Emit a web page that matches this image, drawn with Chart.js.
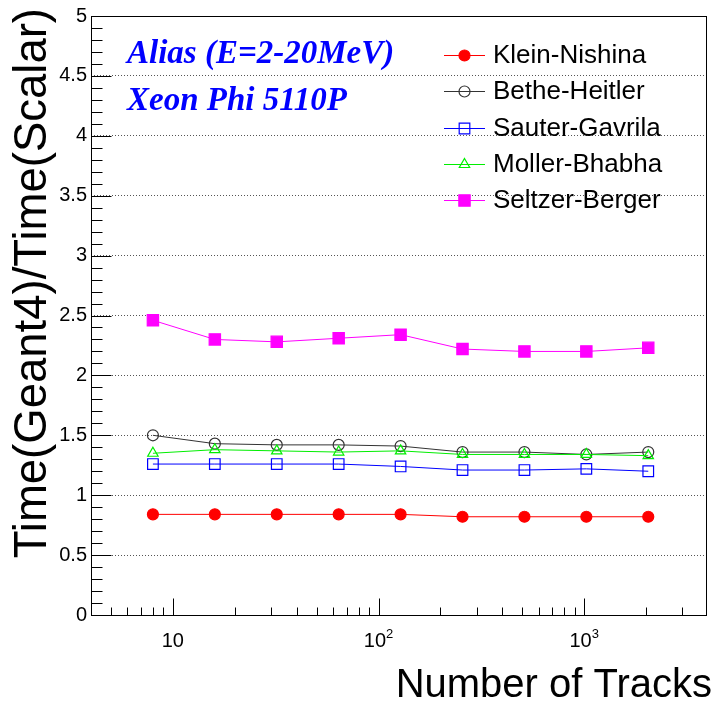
<!DOCTYPE html>
<html>
<head>
<meta charset="utf-8">
<script src="https://cdn.jsdelivr.net/npm/chart.js@4.4.1/dist/chart.umd.min.js"></script>
<style>
  html, body { margin: 0; padding: 0; background: #fff; }
  #ratioChart { display: block; }
</style>
</head>
<body>
<canvas id="ratioChart" width="715" height="704"></canvas>
<script>
// number of tracks per basket
var trackCounts = [8, 16, 32, 64, 128, 256, 512, 1024, 2048];

// Time(Geant4)/Time(Scalar) for each model
var kleinNishina = [0.84, 0.84, 0.84, 0.84, 0.84, 0.82, 0.82, 0.82, 0.82];
var betheHeitler = [1.50, 1.43, 1.42, 1.42, 1.41, 1.36, 1.36, 1.34, 1.36];
var sauterGavrila = [1.26, 1.26, 1.26, 1.26, 1.24, 1.21, 1.21, 1.22, 1.20];
var mollerBhabha = [1.35, 1.38, 1.37, 1.36, 1.37, 1.34, 1.34, 1.34, 1.33];
var seltzerBerger = [2.46, 2.30, 2.28, 2.31, 2.34, 2.22, 2.20, 2.20, 2.23];

var modelNames = ["Klein-Nishina", "Bethe-Heitler", "Sauter-Gavrila", "Moller-Bhabha", "Seltzer-Berger"];
var xTickValues = [10, 100, 1000];
var xTickExponents = ["", "2", "3"];

var SANS = '"Liberation Sans", Arial, sans-serif';
var SERIF = '"Liberation Serif", "Times New Roman", serif';

function toPoints(values) {
  var pts = [];
  for (var i = 0; i < trackCounts.length; i++) {
    pts.push({ x: trackCounts[i], y: values[i] });
  }
  return pts;
}

function makeDataset(label, values, color, style, radius, fill, order) {
  return {
    label: label,
    data: toPoints(values),
    borderColor: color,
    borderWidth: 1,
    pointStyle: style,
    pointRadius: radius,
    pointHoverRadius: radius,
    pointBorderColor: color,
    pointBackgroundColor: fill ? color : "rgba(0,0,0,0)",
    pointBorderWidth: 1.2,
    tension: 0,
    fill: false,
    order: order
  };
}

var datasets = [
  makeDataset(modelNames[0], kleinNishina, "#ff0000", "circle", 5.5, true, 4),
  makeDataset(modelNames[1], betheHeitler, "#333333", "circle", 5.5, false, 3),
  makeDataset(modelNames[2], sauterGavrila, "#0000ff", "rect", 7.5, false, 2),
  makeDataset(modelNames[3], mollerBhabha, "#00ee00", "triangle", 6, false, 1),
  makeDataset(modelNames[4], seltzerBerger, "#ff00ff", "rect", 8, true, 0)
];

function drawMarker(ctx, ds, x, y) {
  ctx.save();
  ctx.fillStyle = ds.pointBackgroundColor;
  ctx.strokeStyle = ds.pointBorderColor;
  ctx.lineWidth = ds.pointBorderWidth;
  Chart.helpers.drawPoint(ctx, {
    pointStyle: ds.pointStyle,
    radius: ds.pointRadius,
    rotation: 0,
    borderWidth: ds.pointBorderWidth
  }, x, y);
  ctx.restore();
}

// frame, inward ticks, log labels, titles, text boxes and legend
var rootStyle = {
  id: "rootStyle",
  afterDraw: function (chart) {
    var ctx = chart.ctx;
    var area = chart.chartArea;
    var xs = chart.scales.x;
    var ys = chart.scales.y;
    var left = Math.round(area.left) + 0.5;
    var bottom = Math.round(area.bottom) + 0.5;

    ctx.save();
    ctx.strokeStyle = "#000";
    ctx.lineWidth = 1;
    ctx.strokeRect(left, Math.round(area.top) + 0.5, Math.round(area.right) - Math.round(area.left), Math.round(area.bottom) - Math.round(area.top));

    // y ticks
    ctx.beginPath();
    for (var i = 0; i <= 50; i++) {
      var py = Math.round(ys.getPixelForValue(i / 10)) + 0.5;
      var len = i % 5 === 0 ? 20 : 11;
      ctx.moveTo(left, py);
      ctx.lineTo(left + len, py);
    }
    // x ticks (log)
    for (var d = 0; d <= 3; d++) {
      for (var k = 1; k <= 9; k++) {
        var v = k * Math.pow(10, d);
        if (v < xs.min || v > xs.max) continue;
        var px = Math.round(xs.getPixelForValue(v)) + 0.5;
        var tl = k === 1 ? 17 : 8;
        ctx.moveTo(px, bottom);
        ctx.lineTo(px, bottom - tl);
      }
    }
    ctx.stroke();

    // x labels with exponents
    ctx.fillStyle = "#000";
    ctx.textBaseline = "alphabetic";
    for (var j = 0; j < xTickValues.length; j++) {
      var cx = xs.getPixelForValue(xTickValues[j]);
      ctx.font = "20px " + SANS;
      var wBase = ctx.measureText("10").width;
      ctx.font = "13px " + SANS;
      var wExp = xTickExponents[j] ? ctx.measureText(xTickExponents[j]).width : 0;
      var x0 = cx - (wBase + wExp) / 2;
      ctx.font = "20px " + SANS;
      ctx.textAlign = "left";
      ctx.fillText("10", x0, 647);
      if (wExp) {
        ctx.font = "13px " + SANS;
        ctx.fillText(xTickExponents[j], x0 + wBase, 638);
      }
    }

    // axis titles
    ctx.font = "40px " + SANS;
    ctx.textAlign = "right";
    ctx.fillText("Number of Tracks", 712, 697);

    ctx.save();
    ctx.translate(46, 8);
    ctx.rotate(-Math.PI / 2);
    ctx.font = "45.5px " + SANS;
    ctx.textAlign = "right";
    ctx.fillText("Time(Geant4)/Time(Scalar)", 0, 0);
    ctx.restore();

    // text labels
    ctx.fillStyle = "#0000ff";
    ctx.textAlign = "left";
    ctx.font = "bold italic 33px " + SERIF;
    ctx.fillText("Alias (E=2-20MeV)", 127, 63);
    ctx.fillText("Xeon Phi 5110P", 127, 110);

    // legend
    var ds = chart.data.datasets;
    for (var n = 0; n < ds.length; n++) {
      var ry = 55 + n * 36.3;
      ctx.strokeStyle = ds[n].borderColor;
      ctx.lineWidth = 1;
      ctx.beginPath();
      ctx.moveTo(444, Math.round(ry) + 0.5);
      ctx.lineTo(485, Math.round(ry) + 0.5);
      ctx.stroke();
      drawMarker(ctx, ds[n], 464.5, Math.round(ry) + 0.5);
      ctx.fillStyle = "#000";
      ctx.font = "26px " + SANS;
      ctx.textBaseline = "middle";
      ctx.fillText(ds[n].label, 493, ry + 1);
    }
    ctx.restore();
  }
};

var ctx = document.getElementById("ratioChart").getContext("2d");
var chart = new Chart(ctx, {
  type: "line",
  data: { datasets: datasets },
  options: {
    responsive: false,
    animation: false,
    devicePixelRatio: 1,
    layout: { padding: { top: 16, right: 1.5, left: 0, bottom: 0 } },
    plugins: {
      legend: { display: false },
      tooltip: { enabled: false }
    },
    scales: {
      x: {
        type: "logarithmic",
        min: 4,
        max: 3900,
        grid: { display: false },
        border: { display: false },
        ticks: { display: false },
        afterFit: function (scale) { scale.height = 89; }
      },
      y: {
        type: "linear",
        min: 0,
        max: 5,
        grid: { color: "#555", drawTicks: false, lineWidth: 1 },
        border: { display: false, dash: [1, 2] },
        ticks: {
          stepSize: 0.5,
          padding: 4,
          color: "#000",
          font: { family: SANS, size: 20 },
          callback: function (value) { return String(Math.round(value * 10) / 10); }
        },
        afterFit: function (scale) { scale.width = 91; }
      }
    }
  },
  plugins: [rootStyle]
});
</script>
</body>
</html>
